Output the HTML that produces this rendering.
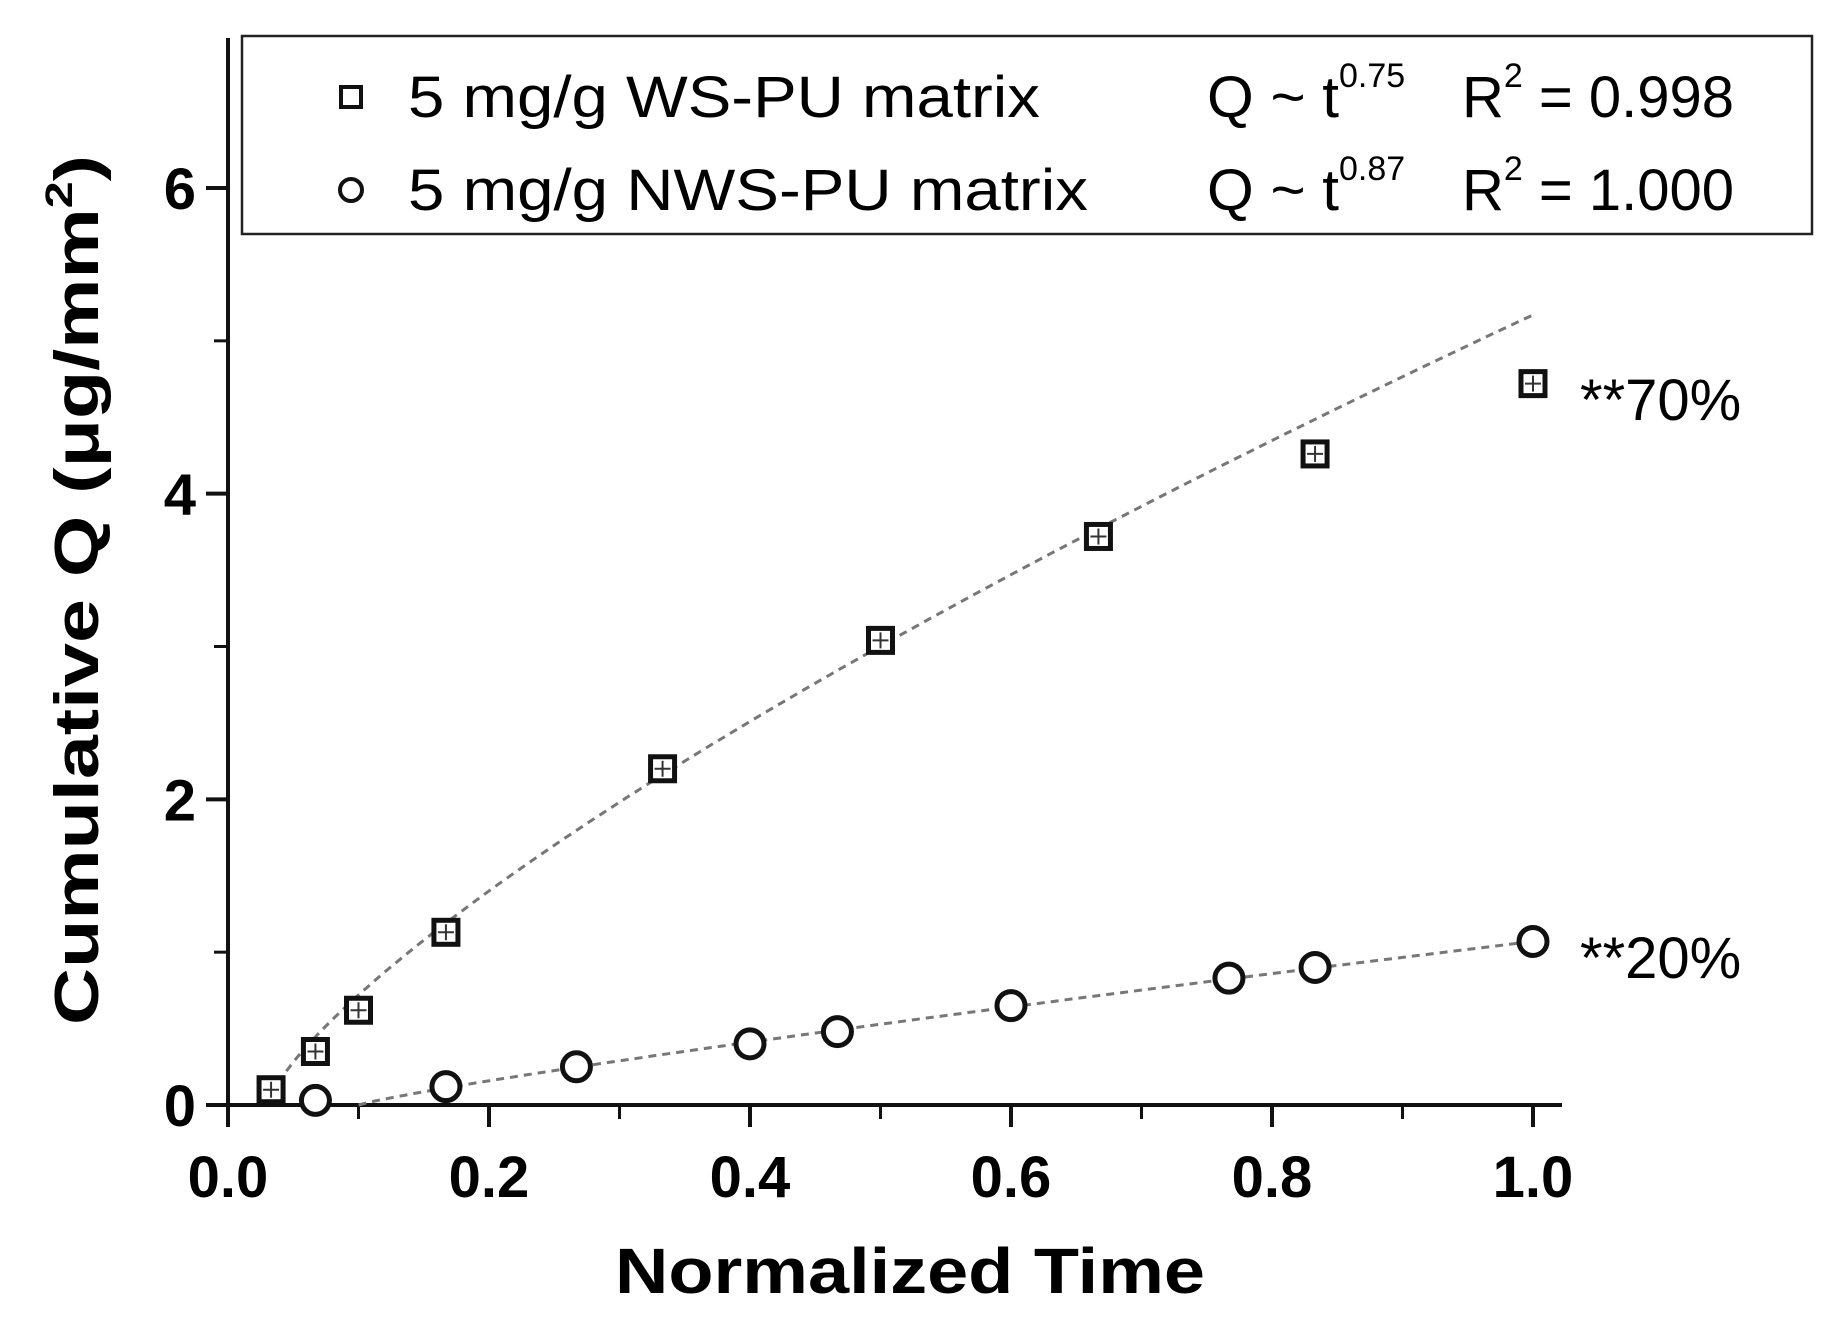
<!DOCTYPE html>
<html><head><meta charset="utf-8"><style>
html,body{margin:0;padding:0;background:#fff;}
svg{display:block;font-family:"Liberation Sans",Arial,sans-serif;}
</style></head><body>
<svg id="chart" width="1831" height="1326" viewBox="0 0 1831 1326" xmlns="http://www.w3.org/2000/svg">
<g id="axes"></g>
<g id="fits"></g>
<g id="marks"></g>
<g id="legend">
  <rect x="242" y="36" width="1570" height="198" fill="#fff" stroke="#222" stroke-width="2.5"/>
  <rect x="341" y="87" width="20" height="20" fill="none" stroke="#111" stroke-width="4"/>
  <circle cx="351" cy="190" r="11" fill="none" stroke="#111" stroke-width="4"/>
  <text x="408" y="117" font-size="58" textLength="632" lengthAdjust="spacingAndGlyphs">5 mg/g WS-PU matrix</text>
  <text x="408" y="210" font-size="58" textLength="680" lengthAdjust="spacingAndGlyphs">5 mg/g NWS-PU matrix</text>
  <text x="1207" y="117" font-size="58"><tspan textLength="132" lengthAdjust="spacingAndGlyphs">Q ~ t</tspan><tspan dy="-30" font-size="34">0.75</tspan></text>
  <text x="1207" y="210" font-size="58"><tspan textLength="132" lengthAdjust="spacingAndGlyphs">Q ~ t</tspan><tspan dy="-30" font-size="34">0.87</tspan></text>
  <text x="1462" y="117" font-size="58">R<tspan dy="-30" font-size="34">2</tspan><tspan dy="30"> = 0.998</tspan></text>
  <text x="1462" y="210" font-size="58">R<tspan dy="-30" font-size="34">2</tspan><tspan dy="30"> = 1.000</tspan></text>
</g>
<text x="1580" y="420" font-size="58">**70%</text>
<text x="1580" y="978" font-size="58">**20%</text>
<text x="910" y="1293" font-size="64" font-weight="bold" text-anchor="middle" textLength="590" lengthAdjust="spacingAndGlyphs">Normalized Time</text>
<text transform="translate(98,590) rotate(-90)" font-size="62" font-weight="bold" text-anchor="middle" textLength="870" lengthAdjust="spacingAndGlyphs">Cumulative Q (μg/mm<tspan dy="-26" font-size="38">2</tspan><tspan dy="26">)</tspan></text>
</svg>
<script>
const wsX = [0.033, 0.067, 0.1, 0.167, 0.333, 0.5, 0.667, 0.833, 1.0];
const wsY = [0.10, 0.35, 0.62, 1.13, 2.20, 3.04, 3.72, 4.26, 4.72];
const nwsX = [0.067, 0.167, 0.267, 0.4, 0.467, 0.6, 0.767, 0.833, 1.0];
const nwsY = [0.03, 0.12, 0.25, 0.40, 0.48, 0.65, 0.83, 0.90, 1.07];
const wsFit = {t0: 0.03, end: 5.17, exp: 0.75, start: 0.033};
const nwsFit = {t0: 0.1, end: 1.07, exp: 0.87, start: 0.1};
const xTicks = [0.0, 0.2, 0.4, 0.6, 0.8, 1.0];
const xTickLabels = ["0.0", "0.2", "0.4", "0.6", "0.8", "1.0"];
const yTicks = [0, 2, 4, 6];
const yTickLabels = ["0", "2", "4", "6"];

const NS = "http://www.w3.org/2000/svg";
const X0 = 228, X1 = 1533, Y0 = 1105, Y6 = 188;
const sx = v => X0 + v * (X1 - X0);
const sy = v => Y0 - v * (Y0 - Y6) / 6;
function mk(tag, attrs, parent) {
  const e = document.createElementNS(NS, tag);
  for (const k in attrs) e.setAttribute(k, attrs[k]);
  parent.appendChild(e);
  return e;
}
const axes = document.getElementById('axes');
let a = mk('line', {x1: X0, y1: 38, x2: X0, y2: Y0 + 20, stroke: '#111', 'stroke-width': 4}, axes);


a = mk('line', {x1: X0 - 20, y1: Y0, x2: 1562, y2: Y0, stroke: '#111', 'stroke-width': 4}, axes);


for (let i = 1; i <= 10; i += 2) {
  const m = mk('line', {x1: sx(i / 10), y1: Y0, x2: sx(i / 10), y2: Y0 + 14, stroke: '#111', 'stroke-width': 3}, axes);
  
  
}
xTicks.forEach((v, i) => {
  const t = mk('line', {x1: sx(v), y1: Y0, x2: sx(v), y2: Y0 + 22, stroke: '#111', 'stroke-width': 4}, axes);
  
  
  const l = mk('text', {x: sx(v), y: Y0 + 92, 'font-size': 58, 'font-weight': 'bold', 'text-anchor': 'middle'}, axes);
  l.textContent = xTickLabels[i];
  
  
});
[1, 3, 5].forEach(v => {
  const m = mk('line', {x1: X0 - 14, y1: sy(v), x2: X0, y2: sy(v), stroke: '#111', 'stroke-width': 3}, axes);
  
  
});
yTicks.forEach((v, i) => {
  const t = mk('line', {x1: X0 - 22, y1: sy(v), x2: X0, y2: sy(v), stroke: '#111', 'stroke-width': 4}, axes);
  
  
  const l = mk('text', {x: 196, y: sy(v) + 21, 'font-size': 58, 'font-weight': 'bold', 'text-anchor': 'end'}, axes);
  l.textContent = yTickLabels[i];
  
  
});
const fits = document.getElementById('fits');
[[wsFit, 'ws-fit-line'], [nwsFit, 'nws-fit-line']].forEach(([f, name]) => {
  let d = '';
  for (let k = 0; k <= 100; k++) {
    const t = f.start + (1 - f.start) * k / 100;
    const q = f.end * Math.pow(Math.max(0, (t - f.t0) / (1 - f.t0)), f.exp);
    d += (k ? 'L' : 'M') + sx(t).toFixed(1) + ' ' + sy(q).toFixed(1);
  }
  const p = mk('path', {d: d, fill: 'none', stroke: '#777', 'stroke-width': 3, 'stroke-dasharray': '8 6'}, fits);
  
  
});
const marks = document.getElementById('marks');
wsX.forEach((x, i) => {
  const cx = sx(x), cy = sy(wsY[i]);
  const g = mk('g', {}, marks);
  
  
  mk('rect', {x: cx - 12, y: cy - 12, width: 24, height: 24, fill: '#fff', stroke: '#111', 'stroke-width': 5}, g);
  mk('path', {d: `M${cx} ${cy - 8}V${cy + 8}M${cx - 8} ${cy}H${cx + 8}`, stroke: '#333', 'stroke-width': 2}, g);
});
nwsX.forEach((x, i) => {
  const c = mk('circle', {cx: sx(x), cy: sy(nwsY[i]), r: 14, fill: '#fff', stroke: '#111', 'stroke-width': 5}, marks);
  
  
});
</script>
</body></html>
